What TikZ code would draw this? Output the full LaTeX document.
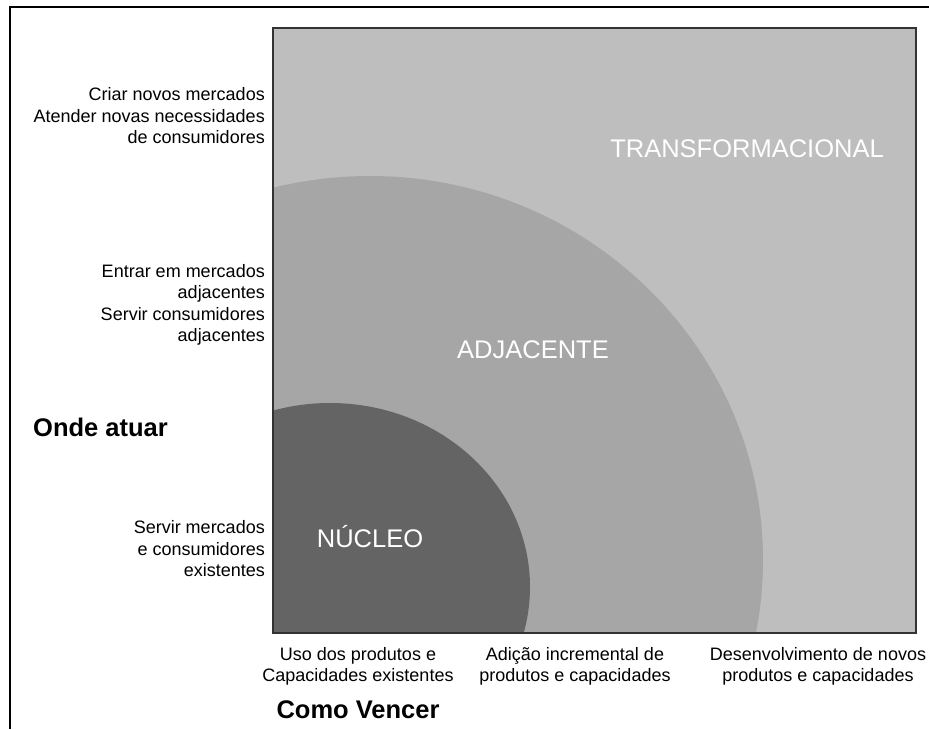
\documentclass[tikz,border=0pt]{standalone}
\usepackage{fontspec}
\setmainfont{Liberation Sans}
\usetikzlibrary{positioning}

\definecolor{outergray}{HTML}{BEBEBE}
\definecolor{adjgray}{HTML}{A6A6A6}
\definecolor{coregray}{HTML}{646464}

\begin{document}
\begin{tikzpicture}[x=1pt, y=-1pt,
    sidelabel/.style={anchor=east, align=right, inner sep=0pt, font=\fontsize{18}{21.5}\selectfont},
    baselabel/.style={align=center, inner sep=0pt, font=\fontsize{18}{21}\selectfont},
    axistitle/.style={inner sep=0pt, font=\bfseries\fontsize{25.5}{30}\selectfont},
    zonelabel/.style={anchor=base, inner sep=0pt, text=white, font=\fontsize{25.5}{30}\selectfont}]
    \useasboundingbox (0,0) rectangle (929,729);

    % Frame
    \draw[line width=2pt] (929,7) -- (9.5,7) -- (9.5,729);

    % Zones
    \fill[outergray] (273,28) rectangle (916,633);
    \begin{scope}
        \clip (273,28) rectangle (916,633);
        \fill[adjgray] (370,560) ellipse [x radius=393, y radius=384];
        \fill[coregray] (330,587) ellipse [x radius=200, y radius=184];
    \end{scope}
    \draw[line width=1.2pt, black!80] (273,28) rectangle (916,633);

    \node[zonelabel] (transf) at (747,157) {TRANSFORMACIONAL};
    \node[zonelabel] (adj) at (533,358) {ADJACENTE};
    \node[zonelabel] (core) at (370,547) {NÚCLEO};

    % Where to play
    \node[sidelabel] (rowtop) at (265,116) {Criar novos mercados\\Atender novas necessidades\\de consumidores};
    \node[sidelabel] (rowmid) at (265,305) {Entrar em mercados\\adjacentes\\Servir consumidores\\adjacentes};
    \node[sidelabel] (rowlow) at (265,549) {Servir mercados\\e consumidores\\existentes};
    \node[axistitle, anchor=base west] (where) at (33,436) {Onde atuar};

    % How to win
    \node[baselabel] (colleft) at (358,666) {Uso dos produtos e\\Capacidades existentes};
    \node[baselabel] (colmid) at (575,666) {Adição incremental de\\produtos e capacidades};
    \node[baselabel] (colright) at (818,666) {Desenvolvimento de novos\\produtos e capacidades};
    \node[axistitle, anchor=base] (how) at (358,718) {Como Vencer};
\end{tikzpicture}
\end{document}
